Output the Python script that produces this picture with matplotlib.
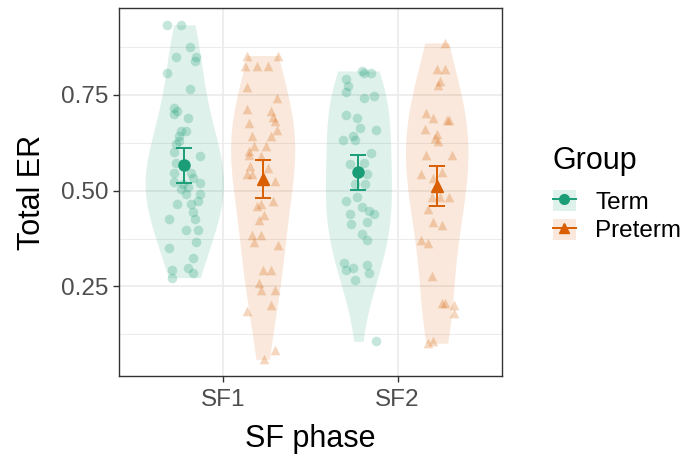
import numpy as np
import matplotlib.pyplot as plt
from matplotlib.patches import Patch
from matplotlib.lines import Line2D
from matplotlib.ticker import FixedLocator

plt.rcParams['font.family'] = ['Liberation Sans', 'DejaVu Sans']

phases = ['SF1', 'SF2']
groups = ['Term', 'Preterm']
colors = {'Term': '#1B9E77', 'Preterm': '#D95F02'}
markers = {'Term': 'o', 'Preterm': '^'}

# Total ER per child, with the horizontal jitter used for each point
term_sf1 = [0.932, 0.932, 0.874, 0.849, 0.849, 0.839, 0.807, 0.766, 0.716, 0.708,
            0.699, 0.690, 0.656, 0.656, 0.641, 0.630, 0.622, 0.600, 0.591, 0.573,
            0.547, 0.547, 0.534, 0.523, 0.521, 0.518, 0.510, 0.505, 0.492, 0.490,
            0.474, 0.466, 0.466, 0.445, 0.427, 0.425, 0.398, 0.398, 0.365, 0.349,
            0.323, 0.299, 0.292, 0.284, 0.273]
term_sf1_jit = [-0.10, -0.02, 0.03, -0.05, 0.07, 0.06, -0.10, 0.03, -0.06, -0.04,
                -0.06, 0.02, -0.02, 0.01, -0.03, -0.03, -0.05, -0.06, 0.09, -0.05,
                -0.06, 0.04, 0.05, -0.06, 0.09, -0.01, 0.02, -0.02, 0.09, 0.01,
                0.08, -0.04, 0.04, 0.05, -0.09, 0.06, 0.01, 0.08, 0.07, -0.09,
                0.05, 0.02, -0.07, 0.05, -0.07]

preterm_sf1 = [0.852, 0.852, 0.826, 0.826, 0.826, 0.771, 0.742, 0.714, 0.708, 0.693,
               0.682, 0.677, 0.659, 0.643, 0.643, 0.617, 0.617, 0.604, 0.594, 0.589,
               0.565, 0.560, 0.542, 0.542, 0.526, 0.474, 0.466, 0.461, 0.435, 0.424,
               0.383, 0.383, 0.365, 0.359, 0.294, 0.294, 0.260, 0.242, 0.242, 0.201,
               0.185, 0.083, 0.060]
preterm_sf1_jit = [-0.09, 0.09, -0.10, -0.03, 0.03, -0.09, 0.08, -0.09, 0.05, 0.06,
                   0.07, -0.08, 0.08, -0.06, 0.05, 0.02, -0.05, -0.08, -0.08, -0.01,
                   -0.07, 0.03, -0.09, -0.06, 0.07, 0.06, -0.01, -0.03, 0.01, -0.02,
                   -0.06, -0.01, -0.05, 0.09, 0.00, 0.05, -0.02, -0.01, 0.07, 0.05,
                   -0.09, 0.07, 0.01]

term_sf2 = [0.812, 0.807, 0.807, 0.792, 0.773, 0.758, 0.747, 0.742, 0.698, 0.690,
            0.664, 0.659, 0.641, 0.633, 0.633, 0.599, 0.573, 0.570, 0.544, 0.518,
            0.518, 0.482, 0.474, 0.458, 0.448, 0.440, 0.440, 0.417, 0.414, 0.388,
            0.372, 0.310, 0.307, 0.299, 0.292, 0.284, 0.266, 0.107]
term_sf2_jit = [0.02, 0.03, 0.07, -0.07, -0.06, -0.07, 0.09, 0.03, -0.07, -0.01,
                0.01, 0.10, -0.03, -0.09, -0.02, 0.07, 0.03, -0.05, 0.05, -0.02,
                0.04, -0.01, -0.07, 0.02, 0.06, -0.05, 0.09, 0.05, -0.04, 0.02,
                0.05, -0.08, 0.05, -0.03, -0.07, 0.06, -0.02, 0.10]

preterm_sf2 = [0.885, 0.818, 0.818, 0.786, 0.776, 0.701, 0.690, 0.685, 0.685, 0.661,
               0.648, 0.638, 0.630, 0.594, 0.594, 0.549, 0.544, 0.534, 0.484, 0.484,
               0.482, 0.453, 0.417, 0.411, 0.370, 0.362, 0.276, 0.208, 0.208, 0.201,
               0.182, 0.109, 0.102]
preterm_sf2_jit = [0.05, 0.00, 0.05, 0.02, 0.01, -0.06, -0.02, 0.06, 0.07, -0.07,
                   0.00, -0.01, 0.01, -0.06, 0.09, 0.03, -0.09, -0.02, 0.02, 0.07,
                   -0.03, -0.05, -0.02, 0.03, -0.09, -0.05, -0.03, 0.03, 0.05, 0.10,
                   0.10, -0.02, -0.05]

# group means and standard errors
mean_term = [0.566, 0.548]
se_term = [0.045, 0.046]
mean_preterm = [0.530, 0.512]
se_preterm = [0.049, 0.051]

values = {('Term', 0): (term_sf1, term_sf1_jit), ('Preterm', 0): (preterm_sf1, preterm_sf1_jit),
          ('Term', 1): (term_sf2, term_sf2_jit), ('Preterm', 1): (preterm_sf2, preterm_sf2_jit)}
summary = {'Term': (mean_term, se_term), 'Preterm': (mean_preterm, se_preterm)}

dodge = {'Term': -0.225, 'Preterm': 0.225}
bw_adjust = 1.3


def bw_nrd0(x):
    x = np.asarray(x)
    q75, q25 = np.percentile(x, [75, 25])
    lo = min(x.std(ddof=1), (q75 - q25) / 1.34)
    return 0.9 * lo * len(x) ** -0.2


def kde(x, grid):
    x = np.asarray(x)
    h = bw_nrd0(x) * bw_adjust
    z = (grid[:, None] - x[None, :]) / h
    return np.exp(-0.5 * z ** 2).sum(axis=1) / (len(x) * h * np.sqrt(2 * np.pi))


# densities on trimmed ranges, scaled together (equal area)
dens = {}
for key, (v, _) in values.items():
    grid = np.linspace(min(v), max(v), 512)
    dens[key] = (grid, kde(v, grid))
dmax = max(d.max() for _, d in dens.values())

fig = plt.figure(figsize=(6.88, 4.55), dpi=100)
ax = fig.add_axes([0.173, 0.1736, 0.5567, 0.8084])

for (g, i), (grid, d) in dens.items():
    xc = i + 1 + dodge[g]
    hw = d / dmax * 0.45 / 2
    ax.fill_betweenx(grid, xc - hw, xc + hw, color=colors[g], alpha=0.14, lw=0, zorder=2)

for (g, i), (v, jit) in values.items():
    xc = i + 1 + dodge[g]
    ax.scatter(xc + np.array(jit), v, s=48, marker=markers[g], color=colors[g],
               alpha=0.25, lw=0, zorder=3)

for g in groups:
    m, se = summary[g]
    xs = np.arange(1, 3) + dodge[g]
    ax.errorbar(xs, m, yerr=se, fmt=markers[g], color=colors[g], ms=8,
                elinewidth=1.4, capsize=6, capthick=1.4, zorder=4)

allv = np.concatenate([v for v, _ in values.values()])
pad = 0.05 * (allv.max() - allv.min())
ax.set_ylim(allv.min() - pad, allv.max() + pad)
ax.set_xlim(0.4, 2.6)

ax.set_xticks([1, 2])
ax.set_xticklabels(phases)
ax.set_yticks([0.25, 0.50, 0.75])
ax.set_yticklabels(['0.25', '0.50', '0.75'])
ax.yaxis.set_minor_locator(FixedLocator([0.125, 0.375, 0.625, 0.875]))
ax.grid(True, which='major', color='#EBEBEB', lw=1.2, zorder=0)
ax.grid(True, which='minor', axis='y', color='#EBEBEB', lw=0.7, zorder=0)
ax.set_axisbelow(True)
ax.tick_params(which='major', length=4.5, width=1, color='#333333',
               labelsize=17.5, labelcolor='#4D4D4D', pad=3)
ax.tick_params(axis='x', which='major', pad=5)
ax.tick_params(which='minor', length=0)
for s in ax.spines.values():
    s.set_color('#333333')
    s.set_linewidth(1)

ax.set_xlabel('SF phase', fontsize=22, labelpad=9)
ax.set_ylabel('Total ER', fontsize=22, labelpad=10)

handles = [(Patch(facecolor=colors[g], alpha=0.14, edgecolor='none'),
            Line2D([0], [0], color=colors[g], marker=markers[g], lw=1.4, ms=7))
           for g in groups]
leg = fig.legend(handles, groups, title='Group', loc='center left',
                 bbox_to_anchor=(0.786, 0.573), frameon=False, fontsize=17.5,
                 title_fontsize=22, alignment='left', handlelength=0.95,
                 handleheight=0.95, handletextpad=0.8, labelspacing=0.2, borderpad=0)
leg._legend_box.sep = 10

fig.savefig('out.png', dpi=100)
